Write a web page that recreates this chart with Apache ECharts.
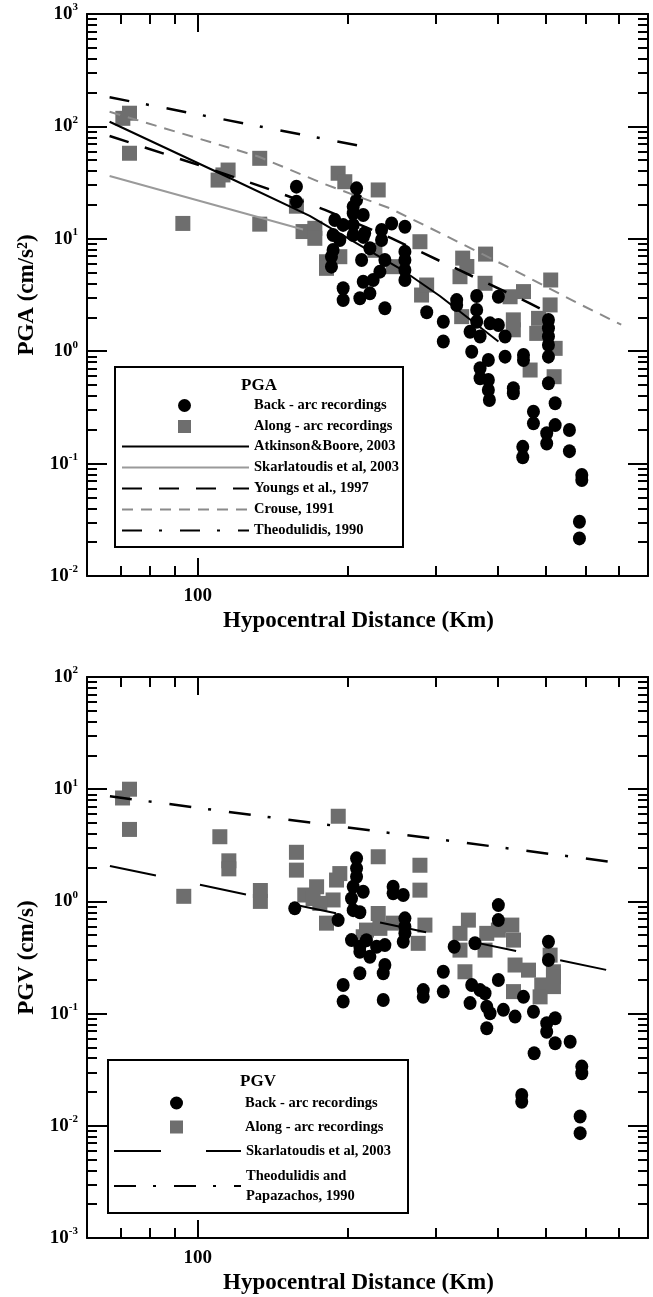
<!DOCTYPE html>
<html>
<head>
<meta charset="utf-8">
<script src="https://cdn.jsdelivr.net/npm/echarts@6/dist/echarts.min.js"></script>
<style>
html,body{margin:0;padding:0;background:#fff;}
#chart{width:653px;height:1297px;}
</style>
</head>
<body>
<div id="chart"></div>
<script>
// ---------------- DATA ----------------
const xMin = 60, xMax = 800;
const xLabelValues = [100];
const xMajorTicks = [100];
const xMinorTicks = [70, 80, 90, 200, 300, 400, 500, 600, 700];
const pgaYDecades = [0.01, 0.1, 1, 10, 100, 1000];
const pgvYDecades = [0.001, 0.01, 0.1, 1, 10, 100];
const minorMultipliers = [2, 3, 4, 5, 6, 7, 8, 9];

// PGA — back-arc recordings (black circles) [distance km, PGA cm/s2]
const pgaBackArc = [
  [157.8,29.1],[157.8,21.4],
  [208.3,28.1],[208.3,22.1],[205.1,19.3],[205.1,16.9],[214.8,16.3],[188.4,14.7],[195.8,13.3],[205.1,13.3],
  [244.9,13.7],[260.4,12.8],[233.8,12.0],[233.8,9.76],[186.9,10.8],[205.1,10.8],[214.8,10.4],[216.2,11.2],
  [192.8,9.76],[221.5,8.23],[186.9,7.95],[185.5,6.93],[185.5,5.65],[213.2,6.48],[237.4,6.48],[260.4,7.67],
  [260.4,6.48],[260.4,5.27],[260.4,4.30],[232.0,5.10],[224.9,4.30],[214.8,4.15],[221.5,3.27],[211.5,2.96],
  [195.8,3.63],[195.8,2.85],[237.4,2.41],[288,2.22],
  [330.7,2.85],[330.7,2.58],[362.7,3.10],[362.7,2.33],[362.7,1.83],[400.9,3.05],[310.9,1.83],[310.9,1.22],
  [351.8,1.49],[368.4,1.35],[385.8,1.77],[400.9,1.71],[413.5,1.35],[354.5,0.99],[382.8,0.835],[368.4,0.705],
  [368.4,0.574],[382.8,0.554],[382.8,0.452],[384.6,0.368],[413.5,0.894],[450.2,0.925],[450.2,0.835],
  [429.6,0.468],[429.6,0.422],[505.2,1.895],[505.2,1.60],[505.2,1.35],[505.2,1.135],[505.2,0.894],
  [505.2,0.518],[521.1,0.344],[471.4,0.290],[471.4,0.228],[521.1,0.220],[501.2,0.186],[501.2,0.151],
  [556.6,0.199],[556.6,0.129],[448.7,0.141],[448.7,0.114],[589.3,0.0792],[589.3,0.0714],[582.9,0.0304],
  [582.9,0.0216]
];
// PGA — along-arc recordings (grey squares)
const pgaAlongArc = [
  [70.8,118],[73.0,131],[73.0,57.7],[93.4,13.7],[109.9,33.3],[115.1,40.9],[112.4,37.0],[133.2,52.0],
  [133.2,13.5],[157.8,19.5],[162.7,11.6],[171.8,12.4],[171.8,10.1],[181.3,6.25],[181.3,5.46],[192.8,6.93],
  [191.3,38.3],[197.3,32.2],[230.2,27.2],[226.7,7.9],[246.8,5.65],[279.1,9.42],[281.2,3.16],[287.9,3.88],
  [335.8,4.60],[340,6.73],[346.6,5.67],[377.9,7.31],[377.0,4.02],[338.4,2.03],[423.2,3.05],[450.2,3.39],
  [429.6,1.90],[429.6,1.55],[510.5,4.30],[509.1,2.58],[482.6,1.96],[478.6,1.44],[521.1,1.06],[464.2,0.68],
  [518.6,0.593]
];
// PGA attenuation relations
const pgaAtkinsonBoore = [[66.6,110],[114,36],[167.8,16],[258.5,5.2],[306,3.1],[401,1.22]];
const pgaSkarlatoudis = [[66.6,36.2],[162.7,12.1]];
const pgaYoungs = [[66.6,82.2],[101.7,44.5],[140.6,27.2],[180,18.1],[245,10.1],[462.7,2.68],[500,2.25]];
const pgaCrouse = [[66.6,135],[132.3,54],[178.5,31],[242.9,18.7],[306,11.3],[430,5.3],[576,2.7],[707,1.72]];
const pgaTheodulidis = [[66.6,181.5],[214,66.5]];

// PGV — back-arc recordings (black circles) [distance km, PGV cm/s]
const pgvBackArc = [
  [208.3,2.42],[208.3,1.97],[208.3,1.66],[205.1,1.35],[214.8,1.22],[203.5,1.06],[205.1,0.836],[211.5,0.80],
  [156.6,0.867],[191.3,0.681],[246.6,1.35],[246.6,1.18],[258.4,1.14],[260.4,0.706],[260.4,0.594],
  [260.4,0.519],[258.4,0.437],[203.5,0.452],[211.5,0.394],[221.5,0.321],[211.5,0.356],[218,0.45],
  [237.4,0.408],[237.4,0.271],[235.6,0.229],[211.5,0.229],[195.8,0.18],[195.8,0.128],[235.6,0.132],
  [283.4,0.162],[283.4,0.141],[310.9,0.236],[310.9,0.157],[326.9,0.394],[228.5,0.394],[400.9,0.927],
  [400.9,0.681],[505.2,0.437],[505.2,0.30],[359.9,0.423],[354.5,0.18],[351.8,0.124],[377.0,0.152],
  [380.0,0.115],[380.0,0.074],[400.9,0.199],[368.4,0.162],[385.8,0.1006],[410.3,0.108],[433.0,0.094],
  [450.2,0.141],[471.4,0.104],[501.2,0.082],[521.1,0.091],[501.2,0.069],[521.1,0.0544],[558.5,0.0562],
  [472.9,0.0443],[589.3,0.0337],[589.3,0.0294],[446.6,0.0188],[446.6,0.0164],[584.8,0.0121],[584.8,0.0086]
];
// PGV — along-arc recordings (grey squares)
const pgvAlongArc = [
  [70.7,8.35],[73.0,10.0],[73.0,4.38],[93.8,1.11],[110.8,3.77],[115.5,2.3],[115.5,1.95],[133.6,1.25],
  [133.6,1.0],[157.8,2.74],[157.8,1.90],[191.4,5.74],[230.2,2.5],[279.1,2.10],[279.1,1.26],[164.0,1.14],
  [173.2,1.35],[192.8,1.77],[189.9,1.55],[186.9,1.03],[175.8,0.96],[181.3,0.64],[170.4,1.06],[230.2,0.78],
  [218.1,0.555],[232.0,0.575],[246.6,0.64],[285.6,0.615],[276.9,0.423],[214.8,0.484],[349.1,0.681],
  [335.8,0.519],[335.8,0.368],[343.6,0.236],[380.0,0.519],[400.9,0.555],[426.6,0.615],[429.9,0.452],
  [377.0,0.368],[433.0,0.271],[460.7,0.244],[429.9,0.157],[509.1,0.332],[517.0,0.236],[489.8,0.18],
  [486.1,0.141],[517.0,0.174],[517.0,0.213]
];
// PGV attenuation relations
const pgvSkarlatoudis = [[66.7,2.07],[693.6,0.234]];
const pgvTheodulidis = [[66.7,8.64],[707,2.19]];

// ---------------- CHART ----------------
const FONT = '"Liberation Serif", "Times New Roman", serif';
function minorsOf(decades) {
  const out = [];
  for (let i = 0; i < decades.length - 1; i++) minorMultipliers.forEach(m => out.push(+(m * decades[i]).toPrecision(6)));
  return out;
}
const tickLine = { color: '#000', width: 2 };
const boxLine = { show: true, onZero: false, lineStyle: { color: '#000', width: 2 } };
const titleStyle = { fontFamily: FONT, fontWeight: 'bold', fontSize: 23, color: '#000' };

function xAxesFor(g) {
  const base = { gridIndex: g, type: 'log', logBase: 10, min: xMin, max: xMax, splitLine: { show: false }, minorTick: { show: false } };
  return [
    Object.assign({}, base, {
      position: 'bottom', axisLine: boxLine,
      axisTick: { show: true, inside: true, length: 18, lineStyle: tickLine, customValues: xMajorTicks },
      axisLabel: { show: true, customValues: xLabelValues, formatter: v => String(Math.round(v)), margin: 11,
        color: '#000', fontFamily: FONT, fontWeight: 'bold', fontSize: 19 },
      name: 'Hypocentral Distance (Km)', nameLocation: 'middle', nameGap: 34,
      nameTextStyle: Object.assign({ padding: [0, 18, 0, 0] }, titleStyle)
    }),
    Object.assign({}, base, {
      position: 'bottom', axisLine: { show: false },
      axisTick: { show: true, inside: true, length: 10, lineStyle: tickLine, customValues: xMinorTicks },
      axisLabel: { show: false }
    }),
    Object.assign({}, base, {
      position: 'top', axisLine: boxLine,
      axisTick: { show: true, inside: true, length: 18, lineStyle: tickLine, customValues: xMajorTicks },
      axisLabel: { show: false }
    }),
    Object.assign({}, base, {
      position: 'top', axisLine: { show: false },
      axisTick: { show: true, inside: true, length: 10, lineStyle: tickLine, customValues: xMinorTicks },
      axisLabel: { show: false }
    })
  ];
}
function yAxesFor(g, decades, title) {
  const base = { gridIndex: g, type: 'log', logBase: 10, min: decades[0], max: decades[decades.length - 1], splitLine: { show: false }, minorTick: { show: false } };
  const minors = minorsOf(decades);
  return [
    Object.assign({}, base, {
      position: 'left', axisLine: boxLine,
      axisTick: { show: true, inside: true, length: 20, lineStyle: tickLine, customValues: decades },
      axisLabel: { show: true, customValues: decades, margin: 9,
        formatter: v => '{b|10}{s|' + Math.round(Math.log10(v)) + '}',
        rich: {
          b: { fontFamily: FONT, fontWeight: 'bold', fontSize: 19, lineHeight: 24, color: '#000' },
          s: { fontFamily: FONT, fontWeight: 'bold', fontSize: 11, lineHeight: 12, verticalAlign: 'top', color: '#000' }
        } },
      name: title, nameLocation: 'middle', nameGap: 47, nameTextStyle: titleStyle
    }),
    Object.assign({}, base, {
      position: 'left', axisLine: { show: false },
      axisTick: { show: true, inside: true, length: 10, lineStyle: tickLine, customValues: minors },
      axisLabel: { show: false }
    }),
    Object.assign({}, base, {
      position: 'right', axisLine: boxLine,
      axisTick: { show: true, inside: true, length: 20, lineStyle: tickLine, customValues: decades },
      axisLabel: { show: false }
    }),
    Object.assign({}, base, {
      position: 'right', axisLine: { show: false },
      axisTick: { show: true, inside: true, length: 10, lineStyle: tickLine, customValues: minors },
      axisLabel: { show: false }
    })
  ];
}

const GREY = '#6e6e6e';
function scatter(name, g, data, isCircle) {
  return {
    type: 'scatter', name, xAxisIndex: g * 4, yAxisIndex: g * 4, data,
    symbol: isCircle ? 'circle' : 'rect', symbolSize: isCircle ? [13, 14] : 15,
    itemStyle: { color: isCircle ? '#000' : GREY, opacity: 1 }, z: isCircle ? 3 : 2, silent: true
  };
}
function line(name, g, data, color, width, type) {
  return {
    type: 'line', name, xAxisIndex: g * 4, yAxisIndex: g * 4, data, symbol: 'none', showSymbol: false,
    lineStyle: { color, width, type }, itemStyle: { color }, z: 4, silent: true, animation: false
  };
}

const legendText = {
  fontFamily: FONT, fontWeight: 'bold', fontSize: 14.5, color: '#000'
};
const noSymbol = { opacity: 0, borderWidth: 0 };
const pgvNames = {
  'Back - arc recordings (PGV)': 'Back - arc recordings',
  'Along - arc recordings (PGV)': 'Along - arc recordings',
  'Skarlatoudis et al, 2003 (PGV)': 'Skarlatoudis et al, 2003',
  'Theodulidis and Papazachos, 1990 (PGV)': 'Theodulidis and\nPapazachos, 1990'
};

const option = {
  backgroundColor: '#fff',
  animation: false,
  grid: [
    { left: 87, top: 14, width: 561, height: 562 },
    { left: 87, top: 677, width: 561, height: 561 }
  ],
  xAxis: xAxesFor(0).concat(xAxesFor(1)),
  yAxis: yAxesFor(0, pgaYDecades, 'PGA (cm/s\u00b2)').concat(yAxesFor(1, pgvYDecades, 'PGV (cm/s)')),
  legend: [
    { orient: 'vertical', left: 178, top: 395, padding: 0, itemGap: 0, itemWidth: 13, itemHeight: 13, selectedMode: false,
      data: ['Back - arc recordings', 'Along - arc recordings'],
      textStyle: Object.assign({ lineHeight: 21, padding: [0, 0, 0, 58] }, legendText) },
    { orient: 'vertical', left: 121, top: 436, padding: 0, itemGap: 0, itemWidth: 127, itemHeight: 14, selectedMode: false,
      itemStyle: noSymbol,
      data: ['Atkinson&Boore, 2003', 'Skarlatoudis et al, 2003', 'Youngs et al., 1997', 'Crouse, 1991', 'Theodulidis, 1990'],
      textStyle: Object.assign({ lineHeight: 21 }, legendText) },
    { orient: 'vertical', left: 170, top: 1091, padding: 0, itemGap: 0, itemWidth: 13, itemHeight: 13, selectedMode: false,
      data: ['Back - arc recordings (PGV)', 'Along - arc recordings (PGV)'], formatter: n => pgvNames[n],
      textStyle: Object.assign({ lineHeight: 24, padding: [0, 0, 0, 57] }, legendText) },
    { orient: 'vertical', left: 113, top: 1141, padding: 0, itemGap: 5, itemWidth: 127, itemHeight: 14, selectedMode: false,
      itemStyle: noSymbol,
      data: ['Skarlatoudis et al, 2003 (PGV)', 'Theodulidis and Papazachos, 1990 (PGV)'], formatter: n => pgvNames[n],
      textStyle: Object.assign({ lineHeight: 20 }, legendText) }
  ],
  graphic: [
    { type: 'rect', shape: { x: 115, y: 367, width: 288, height: 180 }, style: { fill: 'none', stroke: '#000', lineWidth: 2 }, silent: true },
    { type: 'text', style: { text: 'PGA', x: 259, y: 386, align: 'center', verticalAlign: 'middle', fontFamily: FONT, fontWeight: 'bold', fontSize: 17, fill: '#000' }, silent: true },
    { type: 'rect', shape: { x: 108, y: 1060, width: 300, height: 153 }, style: { fill: 'none', stroke: '#000', lineWidth: 2 }, silent: true },
    { type: 'text', style: { text: 'PGV', x: 258, y: 1082, align: 'center', verticalAlign: 'middle', fontFamily: FONT, fontWeight: 'bold', fontSize: 17, fill: '#000' }, silent: true }
  ],
  series: [
    scatter('Along - arc recordings', 0, pgaAlongArc, false),
    scatter('Back - arc recordings', 0, pgaBackArc, true),
    line('Atkinson&Boore, 2003', 0, pgaAtkinsonBoore, '#000', 2, 'solid'),
    line('Skarlatoudis et al, 2003', 0, pgaSkarlatoudis, '#9a9a9a', 2, 'solid'),
    line('Youngs et al., 1997', 0, pgaYoungs, '#000', 2.5, [20, 17]),
    line('Crouse, 1991', 0, pgaCrouse, '#8a8a8a', 2, [11, 8]),
    line('Theodulidis, 1990', 0, pgaTheodulidis, '#000', 2.5, [20, 17, 3, 18]),
    scatter('Along - arc recordings (PGV)', 1, pgvAlongArc, false),
    scatter('Back - arc recordings (PGV)', 1, pgvBackArc, true),
    line('Skarlatoudis et al, 2003 (PGV)', 1, pgvSkarlatoudis, '#000', 2, [47, 45]),
    line('Theodulidis and Papazachos, 1990 (PGV)', 1, pgvTheodulidis, '#000', 2.5, [22, 17, 3, 18])
  ]
};
const chart = echarts.init(document.getElementById('chart'), null, { renderer: 'canvas' });
chart.setOption(option);
</script>
</body>
</html>
